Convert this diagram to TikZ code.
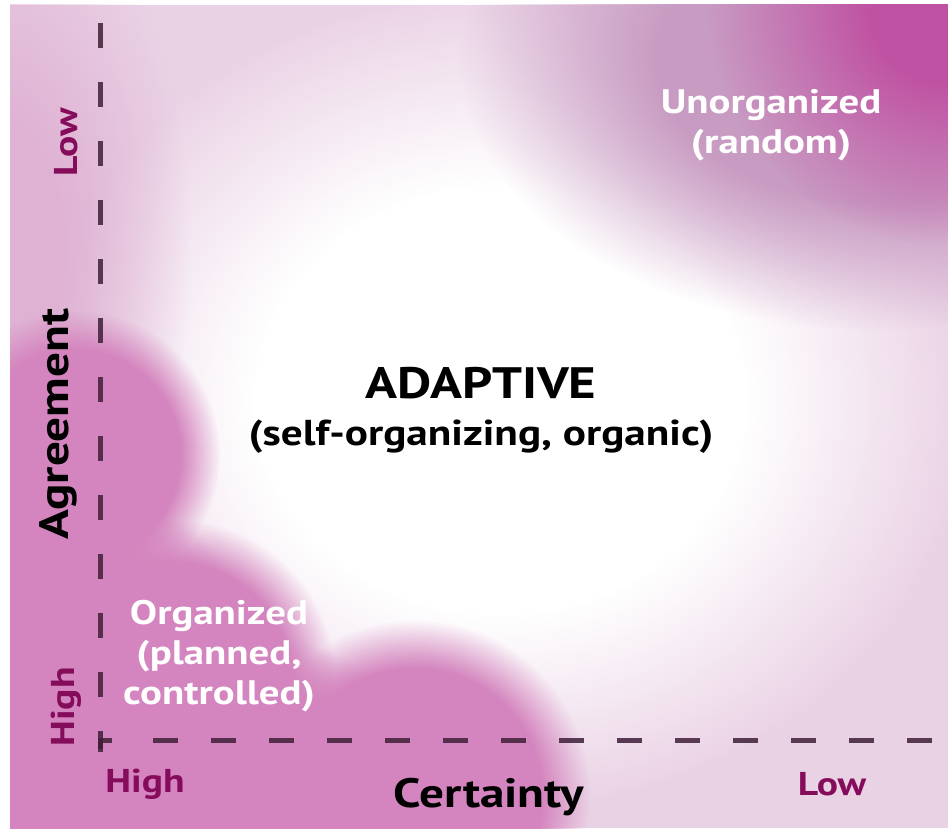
\documentclass[tikz,border=0pt]{standalone}
\usepackage{fontspec}
\setmainfont{PT Sans}[FakeStretch=1.2]
\usetikzlibrary{fadings}

\definecolor{bgpink}{HTML}{EAD2E5}
\definecolor{mauve}{HTML}{C89BC2}
\definecolor{cornermag}{HTML}{C052A3}
\definecolor{blobpink}{HTML}{D484BE}
\definecolor{edgepink}{HTML}{DFB2D3}
\definecolor{dashcol}{HTML}{3E1F38}
\definecolor{lblcol}{HTML}{850C5B}

% soft round patches: opaque core, fading rim
\pgfdeclareradialshading{blobshade}{\pgfpointorigin}{color(0bp)=(white); color(18bp)=(white); color(25bp)=(black); color(50bp)=(black)}
\pgfdeclarefading{blobfade}{\pgfuseshading{blobshade}}
\pgfdeclareradialshading{hazeshade}{\pgfpointorigin}{color(0bp)=(white); color(8bp)=(white); color(25bp)=(black); color(50bp)=(black)}
\pgfdeclarefading{hazefade}{\pgfuseshading{hazeshade}}
\pgfdeclareradialshading{glowshade}{\pgfpointorigin}{color(0bp)=(white); color(13bp)=(white); color(25bp)=(black); color(50bp)=(black)}
\pgfdeclarefading{glowfade}{\pgfuseshading{glowshade}}

\begin{document}
\begin{tikzpicture}[x=1pt,y=-1pt,
    blob/.style={fill=blobpink, path fading=blobfade},
    haze/.style={path fading=hazefade},
    axis/.style={draw=dashcol, draw opacity=0.85, line width=5pt},
    ticklbl/.style={text=lblcol, font=\fontsize{33}{33}\selectfont\bfseries},
    axistitle/.style={text=black, font=\fontsize{41}{41}\selectfont\bfseries},
    region/.style={text=white, align=center, font=\fontsize{34}{40}\selectfont\bfseries}]
    \useasboundingbox (0,0) rectangle (948,837);
    \fill[white] (0,0) rectangle (948,837);

    % background
    \begin{scope}
        \clip (10,5) rectangle (948,828);
        \fill[bgpink] (10,5) rectangle (948,828);
        \fill[white, path fading=glowfade] (500,400) ellipse (470 and 410);
        \fill[edgepink, haze] (0,250) ellipse (190 and 380);
        \fill[mauve, path fading=glowfade] (880,60) ellipse (420 and 270);
        \fill[cornermag, haze] (948,5) circle (240);
        \fill[blob] (75,455) circle (145);
        \fill[blob] (175,680) circle (160);
        \fill[blob] (415,795) circle (175);
        \fill[blob] (30,720) circle (250);
        \fill[blob] (250,835) circle (200);
    \end{scope}

    % axes
    \coordinate (ytop) at (100,23);
    \coordinate (origin) at (100,740);
    \coordinate (xstart) at (153,740);
    \coordinate (xend) at (948,740);
    \draw[axis, dash pattern=on 25pt off 34pt] (ytop) -- ([yshift=-12pt]origin);
    \draw[axis] ([yshift=-9pt]origin) -- (origin) -- ([xshift=12pt]origin);
    \draw[axis, dash pattern=on 25pt off 33pt] (xstart) -- (xend);

    % labels
    \node[ticklbl, rotate=90] (agrlow) at (66,142) {Low};
    \node[ticklbl, rotate=90] (agrhigh) at (66,707) {High};
    \node[axistitle, rotate=90] (agree) at (58,424) {Agreement};
    \node[ticklbl] (certhigh) at (145,784) {High};
    \node[ticklbl] (certlow) at (832,784) {Low};
    \node[axistitle] (cert) at (489,797) {Certainty};

    \node[font=\fontsize{44}{44}\selectfont\bfseries] (adaptive) at (481,383) {ADAPTIVE};
    \node[font=\fontsize{36}{36}\selectfont\bfseries] (adaptsub) at (481,437) {(self-organizing, organic)};
    \node[region] (organized) at (219,656) {Organized\\(planned,\\controlled)};
    \node[region] (unorganized) at (771,125) {Unorganized\\(random)};
\end{tikzpicture}
\end{document}
